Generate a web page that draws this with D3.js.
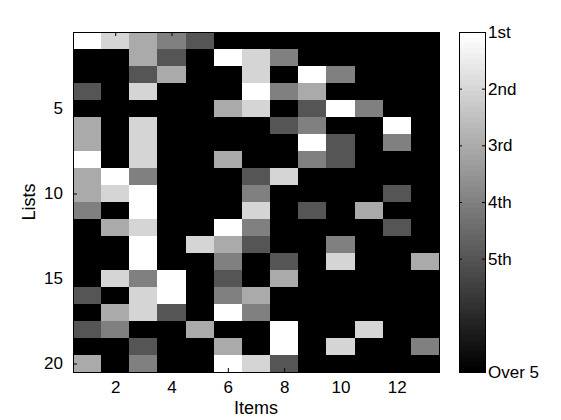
<!DOCTYPE html>
<html>
<head>
<meta charset="utf-8">
<script src="https://cdn.jsdelivr.net/npm/d3@7"></script>
<style>
  body { margin: 0; background: #fff; }
  svg text { font-family: "Liberation Sans", Arial, Helvetica, sans-serif; fill: #000; }
  .tick line { stroke: #000; }
</style>
</head>
<body>
<div id="chart"></div>
<script>
// rank of each item in each list, 1..5, 0 = over 5
const items = d3.range(1, 14);
const lists = d3.range(1, 21);
const ranks = [
  [1,2,3,4,5,0,0,0,0,0,0,0,0],
  [0,0,3,5,0,1,2,4,0,0,0,0,0],
  [0,0,5,3,0,0,2,0,1,4,0,0,0],
  [5,0,2,0,0,0,1,4,3,0,0,0,0],
  [0,0,0,0,0,3,2,0,5,1,4,0,0],
  [3,0,2,0,0,0,0,5,4,0,0,1,0],
  [3,0,2,0,0,0,0,0,1,5,0,4,0],
  [1,0,2,0,0,3,0,0,4,5,0,0,0],
  [3,1,4,0,0,0,5,2,0,0,0,0,0],
  [3,2,1,0,0,0,4,0,0,0,0,5,0],
  [4,0,1,0,0,0,2,0,5,0,3,0,0],
  [0,3,2,0,0,1,4,0,0,0,0,5,0],
  [0,0,1,0,2,3,5,0,0,4,0,0,0],
  [0,0,1,0,0,4,0,5,0,2,0,0,3],
  [0,2,4,1,0,5,0,3,0,0,0,0,0],
  [5,0,2,1,0,4,3,0,0,0,0,0,0],
  [0,3,2,5,0,1,4,0,0,0,0,0,0],
  [5,4,0,0,3,0,0,1,0,0,2,0,0],
  [0,0,5,0,0,3,0,1,0,2,0,0,4],
  [3,0,4,0,0,1,2,5,0,0,0,0,0]
];
const xTicks = [2, 4, 6, 8, 10, 12];
const yTicks = [5, 10, 15, 20];
const cbTicks = [1, 2, 3, 4, 5, 7];
const cbLabels = ["1st", "2nd", "3rd", "4th", "5th", "Over 5"];

const W = 561, H = 420;
const plot = {left: 73, top: 32, right: 439, bottom: 372};
const cb = {left: 459, right: 485};

const svg = d3.select('#chart').append('svg')
  .attr('width', W).attr('height', H);

const x = d3.scaleLinear().domain([0.5, 13.5]).range([plot.left, plot.right]);
const y = d3.scaleLinear().domain([0.5, 20.5]).range([plot.top, plot.bottom]);
// over 5 sits at the bottom of the colour range
const val = r => r === 0 ? 7 : r;
const color = d3.scaleLinear().domain([1, 7]).range(['#ffffff', '#000000']);

const cells = [];
ranks.forEach((row, i) => row.forEach((r, j) => cells.push({list: lists[i], item: items[j], r})));

svg.append('g').selectAll('rect')
  .data(cells)
  .enter()
  .append('rect')
  .attr('x', d => x(d.item - 0.5))
  .attr('y', d => y(d.list - 0.5))
  .attr('width', x(1.5) - x(0.5) + 0.5)
  .attr('height', y(1.5) - y(0.5) + 0.5)
  .attr('fill', d => color(val(d.r)))
  .attr('shape-rendering', 'crispEdges');

const fs = 17;
// axes, ticks pointing inward
const tl = 4;
svg.append('g')
  .attr('transform', `translate(0,${plot.bottom})`)
  .call(d3.axisBottom(x).tickValues(xTicks).tickSizeInner(-tl).tickSizeOuter(0).tickPadding(9))
  .call(g => g.select('.domain').remove())
  .call(g => g.selectAll('text').attr('font-size', fs));
svg.append('g')
  .attr('transform', `translate(0,${plot.top})`)
  .call(d3.axisTop(x).tickValues(xTicks).tickSizeInner(-tl).tickSizeOuter(0).tickFormat(''))
  .call(g => g.select('.domain').remove());
svg.append('g')
  .attr('transform', `translate(${plot.left},0)`)
  .call(d3.axisLeft(y).tickValues(yTicks).tickSizeInner(-tl).tickSizeOuter(0).tickPadding(10))
  .call(g => g.select('.domain').remove())
  .call(g => g.selectAll('text').attr('font-size', fs));
svg.append('g')
  .attr('transform', `translate(${plot.right},0)`)
  .call(d3.axisRight(y).tickValues(yTicks).tickSizeInner(-tl).tickSizeOuter(0).tickFormat(''))
  .call(g => g.select('.domain').remove());

svg.append('rect')
  .attr('x', plot.left).attr('y', plot.top)
  .attr('width', plot.right - plot.left).attr('height', plot.bottom - plot.top)
  .attr('fill', 'none').attr('stroke', '#000').attr('stroke-width', 1)
  .attr('shape-rendering', 'crispEdges');

svg.append('text')
  .attr('x', (plot.left + plot.right) / 2)
  .attr('y', 414)
  .attr('text-anchor', 'middle')
  .attr('font-size', 18)
  .text('Items');

svg.append('text')
  .attr('transform', `translate(35,${(plot.top + plot.bottom) / 2}) rotate(-90)`)
  .attr('text-anchor', 'middle')
  .attr('font-size', 18)
  .text('Lists');

// colorbar, 64 grey steps like the colormap
const cbY = d3.scaleLinear().domain([1, 7]).range([plot.top, plot.bottom]);
const steps = 64;
const band = d3.scaleLinear().domain([0, steps]).range([plot.bottom, plot.top]);
svg.append('g').selectAll('rect')
  .data(d3.range(steps))
  .enter()
  .append('rect')
  .attr('x', cb.left)
  .attr('y', d => band(d + 1))
  .attr('width', cb.right - cb.left)
  .attr('height', band(0) - band(1) + 0.5)
  .attr('fill', d => d3.rgb(255 * d / (steps - 1), 255 * d / (steps - 1), 255 * d / (steps - 1)))
  .attr('shape-rendering', 'crispEdges');

svg.append('g')
  .attr('transform', `translate(${cb.right},0)`)
  .call(d3.axisRight(cbY).tickValues(cbTicks).tickSizeInner(-3).tickSizeOuter(0).tickPadding(3)
    .tickFormat((d, i) => cbLabels[i]))
  .call(g => g.select('.domain').remove())
  .call(g => g.selectAll('text').attr('font-size', fs));
svg.append('g')
  .attr('transform', `translate(${cb.left},0)`)
  .call(d3.axisLeft(cbY).tickValues(cbTicks).tickSizeInner(-3).tickSizeOuter(0).tickFormat(''))
  .call(g => g.select('.domain').remove());

svg.append('rect')
  .attr('x', cb.left).attr('y', plot.top)
  .attr('width', cb.right - cb.left).attr('height', plot.bottom - plot.top)
  .attr('fill', 'none').attr('stroke', '#000').attr('stroke-width', 1)
  .attr('shape-rendering', 'crispEdges');
</script>
</body>
</html>
